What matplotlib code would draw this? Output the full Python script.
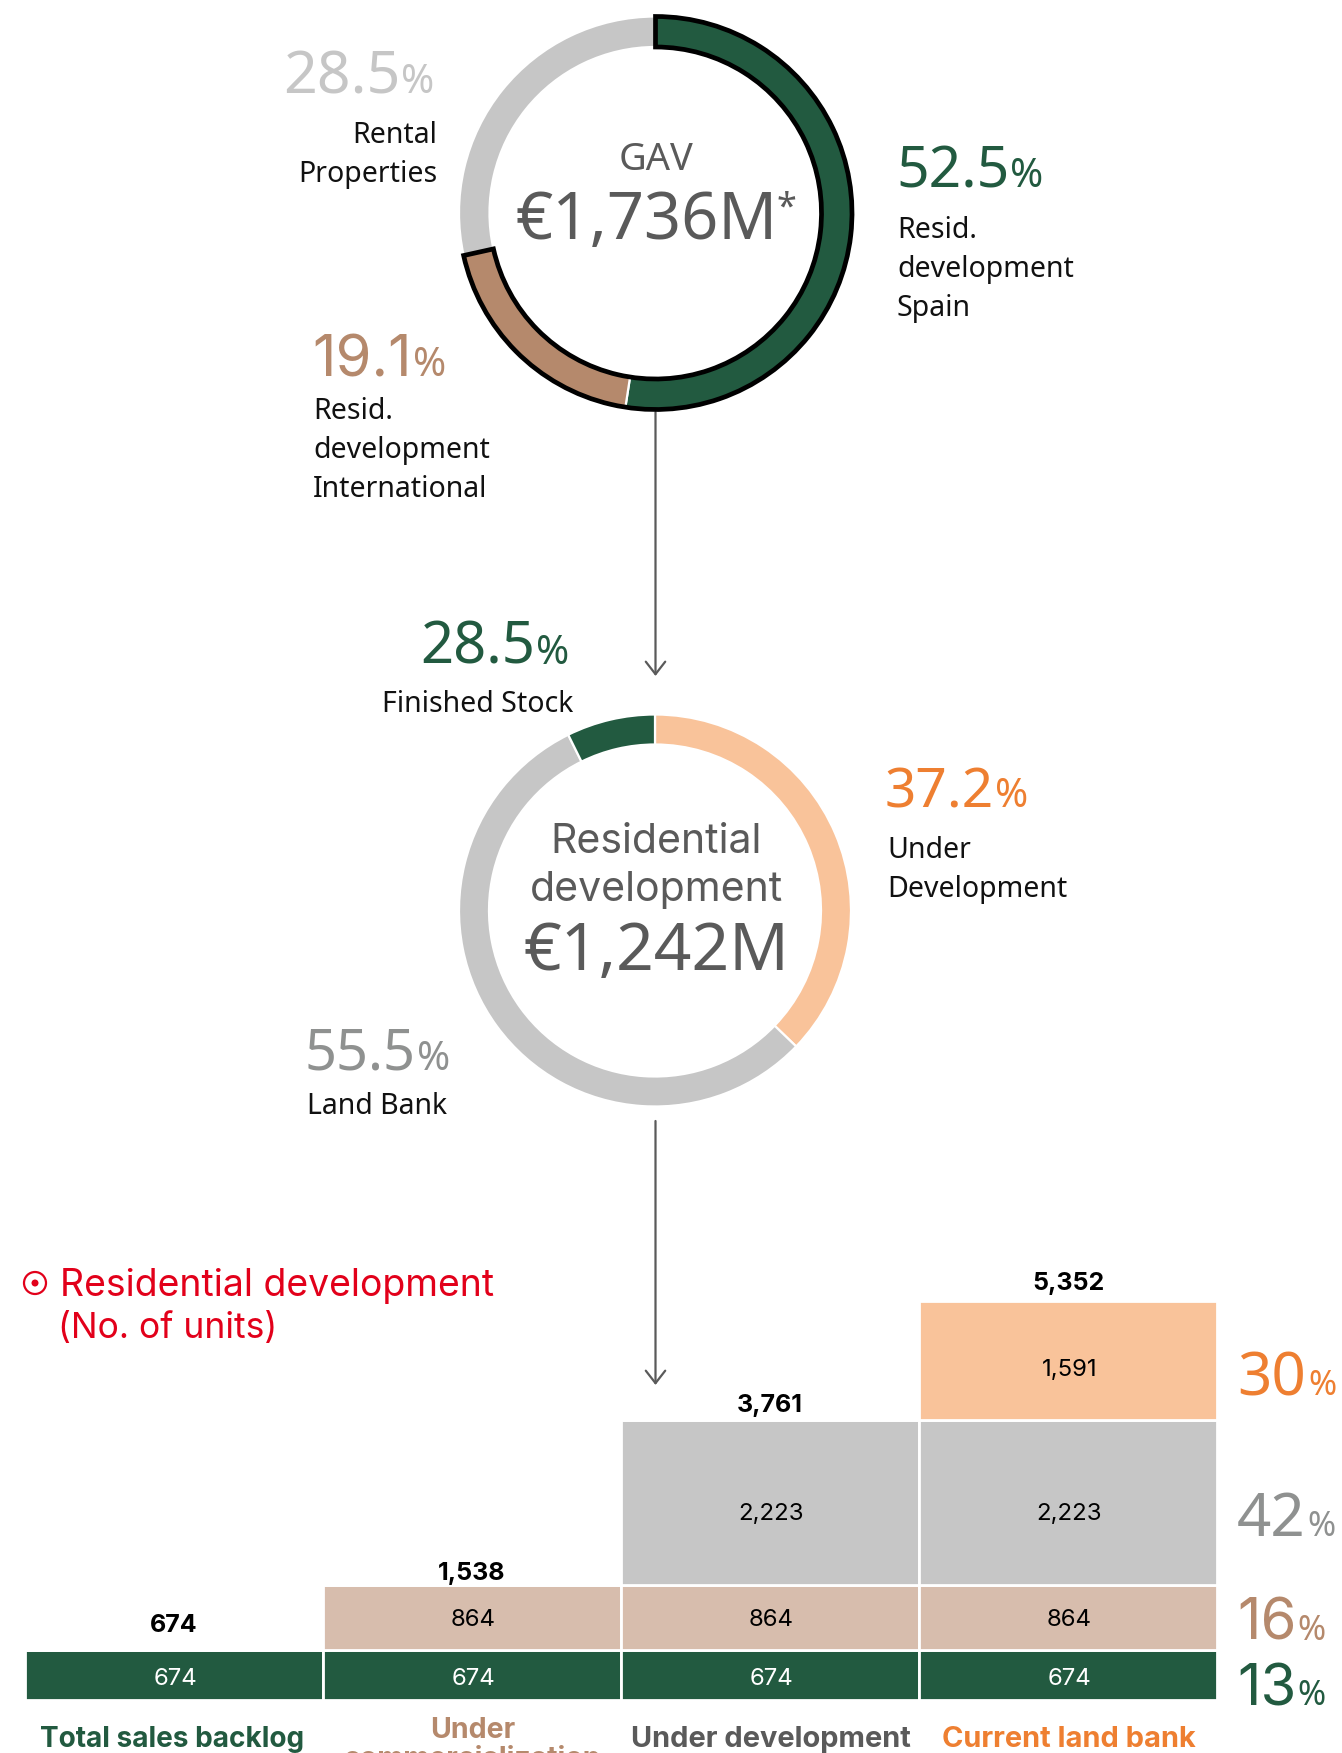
import matplotlib
matplotlib.use("Agg")
import matplotlib.pyplot as plt
from matplotlib.patches import Circle

W, H = 1342, 1753
GREEN, TAN_D, TAN_L, GREY, ORANGE_L, ORANGE = "#225a40", "#b5896c", "#d7bdad", "#c6c6c6", "#f9c39a", "#ee7f31"
DARK, MIDGREY = "#5a5a5a", "#8f9190"
RED = "#e2001a"

# --- data ---
gav_labels = ["Resid.\ndevelopment\nSpain", "Resid.\ndevelopment\nInternational", "Rental\nProperties"]
gav_share = [52.5, 19.1, 28.5]
gav_total = "€1,736M"

res_labels = ["Under\nDevelopment", "Land Bank", "Finished Stock"]
res_share = [37.2, 55.5, 7.3]          # arc sizes read from the ring
res_printed = ["37.2", "55.5", "28.5"]  # numbers printed beside the ring
res_total = "€1,242M"

columns = ["Total sales backlog", "Under\ncommercialization", "Under development", "Current land bank"]
backlog = [674, 674, 674, 674]
commercial = [0, 864, 864, 864]
development = [0, 0, 2223, 2223]
land_bank = [0, 0, 0, 1591]
totals = ["674", "1,538", "3,761", "5,352"]
stage_pct = ["13", "16", "42", "30"]

plt.rcParams["font.family"] = ["Noto Sans", "DejaVu Sans"]
fig = plt.figure(figsize=(W / 100, H / 100), dpi=100, facecolor="white")
ax = fig.add_axes([0, 0, 1, 1])
ax.set_xlim(0, W)
ax.set_ylim(H, 0)
ax.axis("off")
px = 0.72  # points per pixel


def sub_axes(x0, y0, x1, y1):
    a = fig.add_axes([x0 / W, 1 - y1 / H, (x1 - x0) / W, (y1 - y0) / H])
    a.axis("off")
    return a


def ring(cx, cy, r, inner, values, colors):
    a = sub_axes(cx - r - 10, cy - r - 10, cx + r + 10, cy + r + 10)
    a.pie(values, colors=colors, startangle=90, counterclock=False, radius=r,
          wedgeprops=dict(width=r - inner, edgecolor="white", linewidth=1.6))
    a.set_xlim(-r - 10, r + 10)
    a.set_ylim(-r - 10, r + 10)
    return a


def pct(x, y, number, color, big=60, small=40, gap=0, family="Noto Sans", weight="light"):
    t = ax.text(x, y, number, fontsize=big * px, color=color, va="baseline", ha="left",
                fontweight=weight, family=family)
    e = t.get_window_extent(fig.canvas.get_renderer())
    ax.text(e.x1 + 1 + gap, y, "%", fontsize=small * px, color=color, va="baseline", ha="left", fontweight="light")


def lines(x, ys, text, ha="left", size=28.5):
    for y, s in zip(ys, text.split("\n")):
        ax.text(x, y, s, fontsize=size * px, color="#111111", va="baseline", ha=ha)


# --- ring 1 ---
a1 = ring(655.5, 213, 196.5, 166, gav_share, [GREEN, TAN_D, GREY])
outline, _ = a1.pie([gav_share[0] + gav_share[1], gav_share[2]], colors=["none", "none"], startangle=90,
                    counterclock=False, radius=196.5, wedgeprops=dict(width=30.5, linewidth=3.4, edgecolor="black"))
outline[1].set_edgecolor("none")
a1.set_xlim(-206.5, 206.5)
a1.set_ylim(-206.5, 206.5)

pct(283, 93, f"{gav_share[2]}", GREY, big=59, gap=0)
lines(437, [143, 182], gav_labels[2], ha="right")
pct(896, 187, f"{gav_share[0]}", GREEN, big=57, gap=0)
lines(897, [238, 277, 316], gav_labels[0])
pct(312, 376, f"{gav_share[1]}", TAN_D, big=58, gap=0, family="Inter", weight="normal")
lines(313, [419, 458, 497], gav_labels[1])

ax.text(656, 170, "GAV", fontsize=38 * px, color=DARK, ha="center", va="baseline")
ax.text(647, 239, gav_total, fontsize=65 * px, color=DARK, ha="center", va="baseline", fontweight="light")
ax.text(786, 218, "*", fontsize=36 * px, color=DARK, ha="center", va="baseline")

# --- arrows ---
for y0, y1 in [(412, 676), (1121, 1385)]:
    ax.annotate("", xy=(655.5, y1), xytext=(655.5, y0),
                arrowprops=dict(arrowstyle="->,head_length=0.9,head_width=0.7", color=DARK, lw=1.6,
                                shrinkA=0, shrinkB=0))

# --- ring 2 ---
ring(655, 910.5, 196, 166, res_share, [ORANGE_L, GREY, GREEN])
pct(420, 664, res_printed[2], GREEN, big=58, gap=0)
lines(573, [712], res_labels[2], ha="right")
pct(885, 807, res_printed[0], ORANGE, big=55, gap=0)
lines(887, [858, 897], res_labels[0])
pct(305, 1070, res_printed[1], MIDGREY, big=56, gap=0)
lines(307, [1114], res_labels[1])

ax.text(656, 853, "Residential", fontsize=41 * px, color=DARK, ha="center", va="baseline", family="Inter")
ax.text(656, 901, "development", fontsize=41 * px, color=DARK, ha="center", va="baseline", family="Inter")
ax.text(656, 970, res_total, fontsize=66 * px, color=DARK, ha="center", va="baseline", fontweight="light")

# --- section title ---
ax.add_patch(Circle((35, 1283), 11, fill=False, edgecolor=RED, lw=1.6))
ax.add_patch(Circle((35, 1283), 3.5, color=RED, lw=0))
ax.text(60, 1295.5, "Residential development", fontsize=37.4 * px, color=RED, va="baseline", family="Inter")
ax.text(58, 1338, "(No. of units)", fontsize=35.5 * px, color=RED, va="baseline", family="Inter")

# --- stacked bars ---
b = sub_axes(25, 1301, 1217, 1700)
b.set_xlim(-0.5, 3.5)
b.set_ylim(0, sum(x[3] for x in [backlog, commercial, development, land_bank]) * 1.0)
xs = range(4)
bottom = [0, 0, 0, 0]
for vals, col, tc, drop in [(backlog, GREEN, "white", 3), (commercial, TAN_L, "black", 2),
                            (development, GREY, "black", 8), (land_bank, ORANGE_L, "black", 7)]:
    b.bar(xs, vals, 1.0, bottom=bottom, color=col, edgecolor="white", linewidth=2.0)
    for i, v in enumerate(vals):
        if v:
            b.annotate(f"{v:,}", xy=(i, bottom[i] + v / 2), xytext=(1, -drop), textcoords="offset points",
                       color=tc, fontsize=24 * px, ha="center", va="center", family="Inter")
    bottom = [p + v for p, v in zip(bottom, vals)]
for i, (s, up) in enumerate(zip(totals, [13, 4.2, 5.8, 8.2])):
    b.annotate(s, xy=(i, bottom[i]), xytext=(0, up), textcoords="offset points", ha="center", va="baseline",
               fontsize=25 * px, fontweight="bold", color="black", family="Inter", annotation_clip=False)

pct(1237, 1705, stage_pct[0], GREEN, big=58, small=34, family="Inter", weight="normal")
pct(1237, 1640, stage_pct[1], TAN_D, big=58, small=34, family="Inter", weight="normal")
pct(1237, 1536, stage_pct[2], MIDGREY, small=34, gap=1)
pct(1237, 1395, stage_pct[3], ORANGE, small=34, gap=1)

# --- column names ---
centers = [172, 473, 771, 1069]
name_cols = [GREEN, TAN_D, DARK, ORANGE]
name_size = [28, 28.5, 29, 29]
for xc, name, c, sz in zip(centers, columns, name_cols, name_size):
    parts = name.split("\n")
    ys = [1747] if len(parts) == 1 else [1738, 1767]
    for y, s in zip(ys, parts):
        ax.text(xc, y, s, fontsize=sz * px, fontweight="bold", color=c, ha="center", va="baseline", family="Inter")

fig.savefig("out.png", dpi=100, facecolor="white")
